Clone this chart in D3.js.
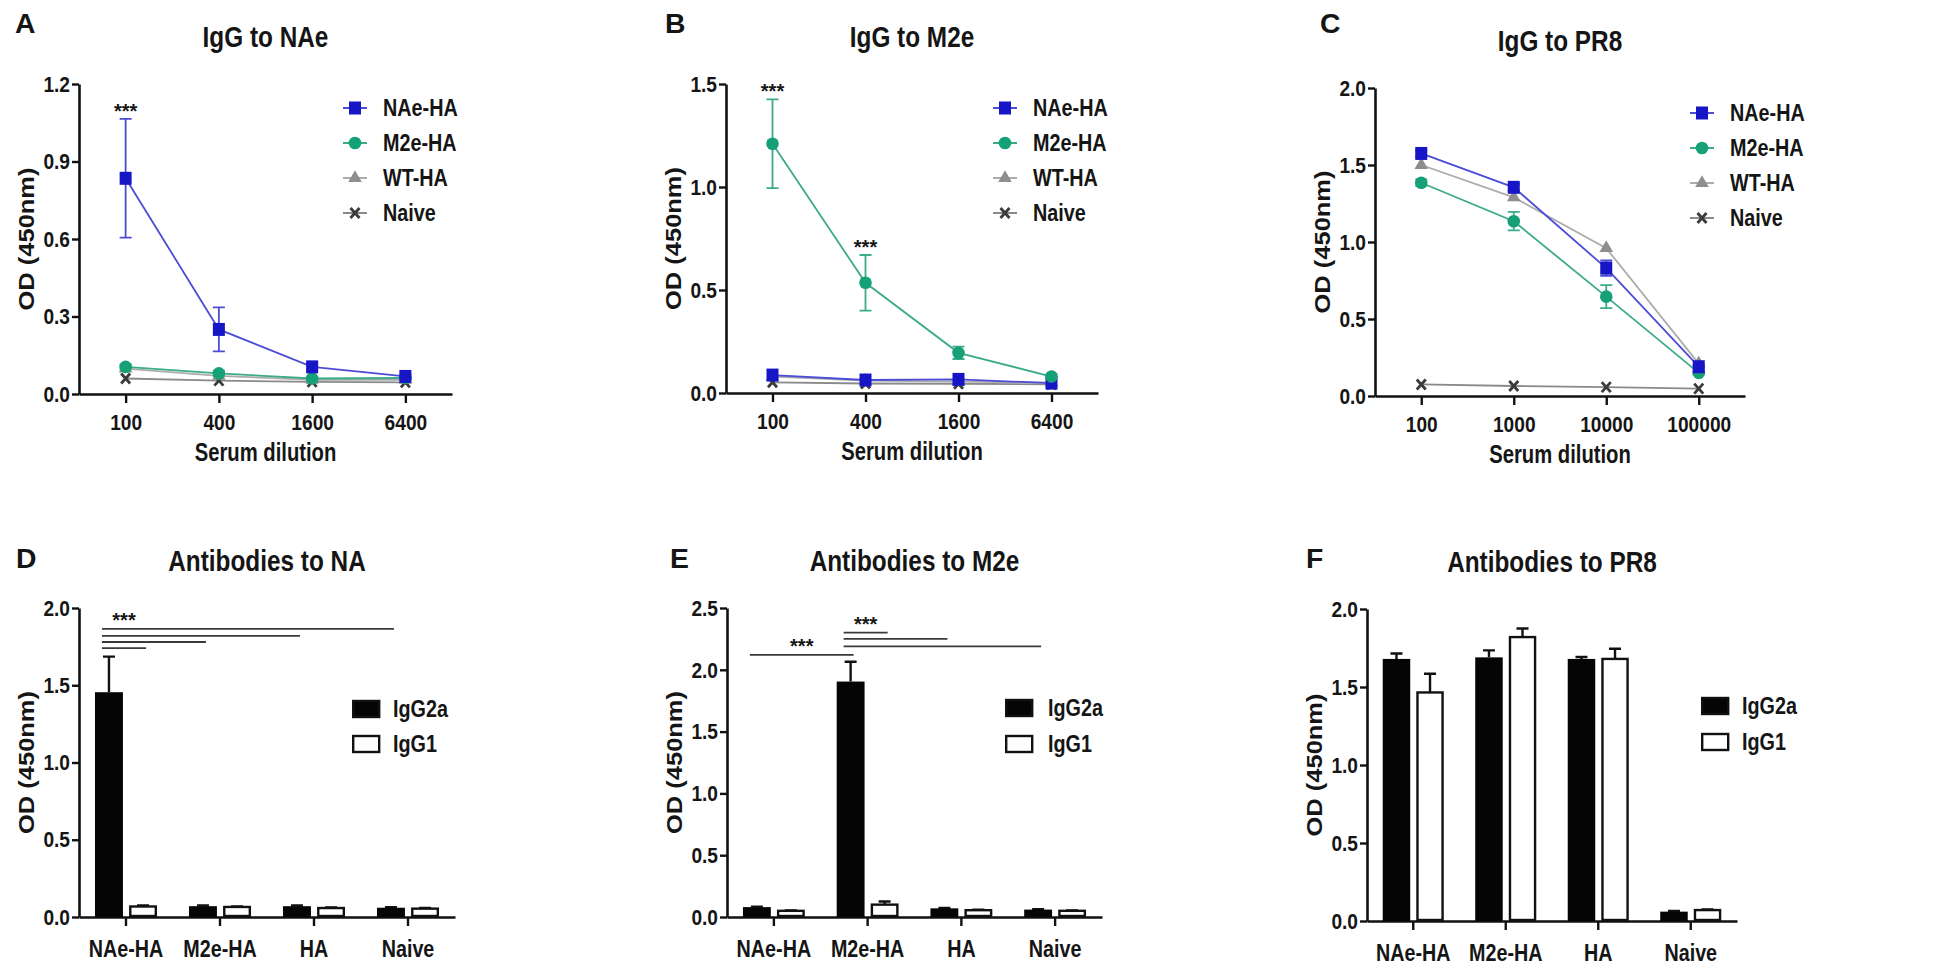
<!DOCTYPE html>
<html><head><meta charset="utf-8">
<script src="https://cdn.jsdelivr.net/npm/d3@7"></script>
<style>
body{margin:0;background:#fff}
svg{display:block}
text{font-family:"Liberation Sans",Arial,sans-serif;font-weight:bold;fill:#151515}
</style>
</head><body>
<svg id="chart" width="1950" height="973"></svg>
<script>
// ================= DATA =================
const seriesNames = ["NAe-HA", "M2e-HA", "WT-HA", "Naive"];
const dilutionsAB = ["100", "400", "1600", "6400"];
const dilutionsC  = ["100", "1000", "10000", "100000"];

// Panel A : IgG to NAe
const naeA      = [0.835, 0.25, 0.105, 0.068];
const naeA_err  = [0.23, 0.085, 0.01, 0.008];
const m2eA      = [0.105, 0.08, 0.06, 0.062];
const m2eA_err  = [0.01, 0.01, 0.005, 0.005];
const wtA       = [0.098, 0.07, 0.055, 0.055];
const naiveA    = [0.06, 0.052, 0.047, 0.045];

// Panel B : IgG to M2e
const naeB      = [0.087, 0.063, 0.066, 0.048];
const m2eB      = [1.21, 0.535, 0.195, 0.08];
const m2eB_err  = [0.215, 0.135, 0.03, 0.01];
const wtB       = [0.08, 0.06, 0.055, 0.05];
const naiveB    = [0.052, 0.046, 0.045, 0.042];

// Panel C : IgG to PR8
const naeC      = [1.575, 1.355, 0.83, 0.19];
const naeC_err  = [0.02, 0.02, 0.05, 0.01];
const m2eC      = [1.385, 1.135, 0.645, 0.15];
const m2eC_err  = [0.02, 0.06, 0.075, 0.01];
const wtC       = [1.50, 1.29, 0.96, 0.21];
const naiveC    = [0.075, 0.065, 0.058, 0.048];

// Bar panels
const groups   = ["NAe-HA", "M2e-HA", "HA", "Naive"];
const isotypes = ["IgG2a", "IgG1"];

const igg2aD     = [1.455, 0.07, 0.07, 0.06];
const igg2aD_err = [0.23, 0.004, 0.004, 0.004];
const igg1D      = [0.068, 0.065, 0.058, 0.054];
const igg1D_err  = [0.006, 0.004, 0.004, 0.004];

const igg2aE     = [0.08, 1.905, 0.07, 0.06];
const igg2aE_err = [0.004, 0.16, 0.004, 0.004];
const igg1E      = [0.05, 0.10, 0.055, 0.05];
const igg1E_err  = [0.004, 0.025, 0.004, 0.004];

const igg2aF     = [1.68, 1.69, 1.68, 0.06];
const igg2aF_err = [0.035, 0.045, 0.012, 0.004];
const igg1F      = [1.465, 1.82, 1.68, 0.07];
const igg1F_err  = [0.12, 0.055, 0.065, 0.004];

// significance bars [from group, from isotype, to group, to isotype, level]
const sigD = [
  ["NAe-HA", "IgG2a", "NAe-HA", "IgG1", 1.74],
  ["NAe-HA", "IgG2a", "M2e-HA", "IgG2a", 1.78],
  ["NAe-HA", "IgG2a", "HA", "IgG2a", 1.82],
  ["NAe-HA", "IgG2a", "Naive", "IgG2a", 1.865]
];
const sigE1 = [
  ["NAe-HA", "IgG2a", "M2e-HA", "IgG2a", 2.12]
];
const sigE2 = [
  ["M2e-HA", "IgG2a", "M2e-HA", "IgG1", 2.30],
  ["M2e-HA", "IgG2a", "HA", "IgG2a", 2.25],
  ["M2e-HA", "IgG2a", "Naive", "IgG2a", 2.19]
];

// tick values
const ticksA = [0, 0.3, 0.6, 0.9, 1.2];
const ticksB = [0, 0.5, 1.0, 1.5];
const ticksC = [0, 0.5, 1.0, 1.5, 2.0];
const ticksD = [0, 0.5, 1.0, 1.5, 2.0];
const ticksE = [0, 0.5, 1.0, 1.5, 2.0, 2.5];
const ticksF = [0, 0.5, 1.0, 1.5, 2.0];

// ================= STYLE =================
const seriesStyle = {
  "NAe-HA": {shape: "square",   fill: "#1616c6", line: "#4c4cd6"},
  "M2e-HA": {shape: "circle",   fill: "#15a077", line: "#3cab88"},
  "WT-HA":  {shape: "triangle", fill: "#8e8e8e", line: "#acacac"},
  "Naive":  {shape: "cross",    fill: "#3a3a3a", line: "#8a8a8a"}
};
const F = {
  tick: {size: 22.5, sx: 0.85},
  title: {size: 29, sx: 0.84},
  xlab: {size: 25, sx: 0.81},
  ylab: {size: 25.5, sx: 0.84},
  leg: {size: 23, sx: 0.86},
  cat: {size: 23.5, sx: 0.84},
  letter: {size: 27, sx: 1.05},
  star: {size: 20, sx: 1}
};

const svg = d3.select("#chart");

function txt(g, x, y, s, f, anchor = "middle", rotate = 0, dy = null) {
  let tr = `translate(${x},${y})`;
  tr += rotate ? ` rotate(${rotate}) scale(1,${f.sx})` : ` scale(${f.sx},1)`;
  const t = g.append("text").attr("transform", tr)
    .attr("text-anchor", anchor).attr("font-size", f.size).text(s);
  if (dy) t.attr("dy", dy);
  return t;
}

function marker(g, shape, cx, cy, color) {
  if (shape === "square") {
    g.append("rect").attr("x", cx - 6).attr("y", cy - 6.5).attr("width", 12).attr("height", 13).attr("fill", color);
  } else if (shape === "circle") {
    g.append("circle").attr("cx", cx).attr("cy", cy).attr("r", 6.3).attr("fill", color);
  } else if (shape === "triangle") {
    g.append("path").attr("d", d3.symbol(d3.symbolTriangle, 80)()).attr("transform", `translate(${cx},${cy})`).attr("fill", color);
  } else {
    g.append("path").attr("d", `M${cx-4.5},${cy-5}L${cx+4.5},${cy+5}M${cx-4.5},${cy+5}L${cx+4.5},${cy-5}`)
      .attr("stroke", color).attr("stroke-width", 2.8).attr("fill", "none");
  }
}

function styleAxes(g, yAxisG, xAxisG) {
  [yAxisG, xAxisG].forEach(a => {
    a.select(".domain").attr("stroke", "#111").attr("stroke-width", 2.6);
    a.selectAll(".tick line").attr("stroke", "#111").attr("stroke-width", 2.4);
    a.selectAll(".tick text").attr("font-family", null).attr("font-size", null);
  });
  yAxisG.selectAll(".tick text").attr("x", null).attr("font-size", F.tick.size)
    .attr("transform", `translate(-9,0) scale(${F.tick.sx},1)`).attr("fill", "#151515");
}

function panelFrame(box, ticks, ymax, title, letter, letterPos) {
  const g = svg.append("g");
  const y = d3.scaleLinear().domain([0, ymax]).range([box.b, box.t]);
  txt(g, (box.l + box.r) / 2, box.t - 37, title, F.title);
  txt(g, letterPos[0], letterPos[1], letter, F.letter, "start");
  txt(g, box.l - 53, (box.t + box.b) / 2, "OD (450nm)", F.ylab, "middle", -90, "0.36em");
  const ya = g.append("g").attr("transform", `translate(${box.l},0)`)
    .call(d3.axisLeft(y).tickValues(ticks).tickFormat(d3.format(".1f")).tickSize(7).tickSizeOuter(0));
  return {g, y, ya};
}

// ================= LINE PANELS =================
function linePanel(cfg) {
  const {box, cats, data, ticks, ymax, title, letter, letterPos, legend, order, stars} = cfg;
  const {g, y, ya} = panelFrame(box, ticks, ymax, title, letter, letterPos);
  const x = d3.scalePoint().domain(cats).range([box.l, box.r]).padding(0.5);
  const xa = g.append("g").attr("transform", `translate(0,${box.b})`)
    .call(d3.axisBottom(x).tickSize(9).tickSizeOuter(0));
  styleAxes(g, ya, xa);
  xa.selectAll(".tick text").attr("y", null).attr("font-size", F.tick.size)
    .attr("transform", `translate(0,20) scale(${F.tick.sx},1)`).attr("fill", "#151515");
  txt(g, (box.l + box.r) / 2, box.b + 67, "Serum dilution", F.xlab);

  const line = d3.line().x((d, i) => x(cats[i])).y(d => y(d));
  order.forEach(name => {
    const s = data[name];
    const st = seriesStyle[name];
    g.append("path").datum(s.v).attr("d", line).attr("fill", "none")
      .attr("stroke", st.line).attr("stroke-width", 1.8);
    if (s.e) {
      s.v.forEach((v, i) => {
        const cx = x(cats[i]), y1 = y(v + s.e[i]), y2 = y(v - s.e[i]);
        g.append("path").attr("d", `M${cx},${y1}V${y2}M${cx-6},${y1}H${cx+6}M${cx-6},${y2}H${cx+6}`)
          .attr("stroke", st.line).attr("stroke-width", 1.8).attr("fill", "none");
      });
    }
    s.v.forEach((v, i) => marker(g, st.shape, x(cats[i]), y(v), st.fill));
  });

  // legend
  seriesNames.forEach((name, i) => {
    const st = seriesStyle[name];
    const ry = legend.y + i * legend.dy;
    g.append("line").attr("x1", legend.x - 12).attr("x2", legend.x + 12).attr("y1", ry).attr("y2", ry)
      .attr("stroke", st.line).attr("stroke-width", 2);
    marker(g, st.shape, legend.x, ry, st.fill);
    txt(g, legend.tx, ry, name, F.leg, "start", 0, "0.36em");
  });

  // significance stars
  (stars || []).forEach(([cat, series]) => {
    const s = data[series];
    const i = cats.indexOf(cat);
    txt(g, x(cat), y(s.v[i] + s.e[i]) - 1, "***", F.star);
  });
}

// ================= BAR PANELS =================
function barPanel(cfg) {
  const {box, vals, errs, ticks, ymax, title, letter, letterPos, legend, sigSets} = cfg;
  const {g, y, ya} = panelFrame(box, ticks, ymax, title, letter, letterPos);
  const x0 = d3.scaleBand().domain(groups).range([box.l, box.r]).paddingInner(0.34).paddingOuter(0.17);
  const x1 = d3.scaleBand().domain(isotypes).range([0, x0.bandwidth()]).paddingInner(0.18);
  const xa = g.append("g").attr("transform", `translate(0,${box.b})`)
    .call(d3.axisBottom(x0).tickSize(9).tickSizeOuter(0));
  styleAxes(g, ya, xa);
  xa.selectAll(".tick text").attr("y", null).attr("font-size", F.cat.size)
    .attr("transform", `translate(0,23) scale(${F.cat.sx},1)`).attr("fill", "#151515");

  isotypes.forEach((iso, k) => {
    groups.forEach((gr, i) => {
      const v = vals[k][i], e = errs[k][i];
      const bx = x0(gr) + x1(iso), bw = x1.bandwidth(), cx = bx + bw / 2;
      g.append("path").attr("d", `M${cx},${y(v)}V${y(v + e)}M${cx-6},${y(v + e)}H${cx+6}`)
        .attr("stroke", "#111").attr("stroke-width", 2.4).attr("fill", "none");
      if (k === 0) {
        g.append("rect").attr("x", bx).attr("y", y(v)).attr("width", bw).attr("height", y(0) - y(v)).attr("fill", "#050505");
      } else {
        g.append("rect").attr("x", bx + 1.2).attr("y", y(v)).attr("width", bw - 2.4).attr("height", y(0) - y(v) - 1)
          .attr("fill", "#fff").attr("stroke", "#111").attr("stroke-width", 2.4);
      }
    });
  });

  // legend
  isotypes.forEach((iso, k) => {
    const ry = legend.y + k * legend.dy;
    g.append("rect").attr("x", legend.x + 1.2).attr("y", ry - 8).attr("width", 26).attr("height", 16)
      .attr("fill", k === 0 ? "#050505" : "#fff").attr("stroke", "#111").attr("stroke-width", 2.4);
    txt(g, legend.tx, ry, iso, F.leg, "start", 0, "0.36em");
  });

  // significance lines
  const bc = (gr, iso) => x0(gr) + x1(iso) + x1.bandwidth() / 2;
  (sigSets || []).forEach(set => {
    let shortest = null, top = -1;
    set.forEach(([g1, i1, g2, i2, lvl]) => {
      const xa1 = bc(g1, i1) - 7, xa2 = bc(g2, i2) + 3;
      g.append("line").attr("x1", xa1).attr("x2", xa2).attr("y1", y(lvl)).attr("y2", y(lvl))
        .attr("stroke", "#3a3a3a").attr("stroke-width", 1.8);
      if (!shortest || (xa2 - xa1) < shortest[1] - shortest[0]) shortest = [xa1, xa2];
      top = Math.max(top, lvl);
    });
    txt(g, (shortest[0] + shortest[1]) / 2, y(top) - 2, "***", F.star);
  });
}

// ================= DRAW =================
linePanel({
  box: {l: 79, r: 452, t: 84, b: 394}, cats: dilutionsAB, ticks: ticksA, ymax: 1.2,
  title: "IgG to NAe", letter: "A", letterPos: [15, 33],
  data: {"NAe-HA": {v: naeA, e: naeA_err}, "M2e-HA": {v: m2eA, e: m2eA_err}, "WT-HA": {v: wtA}, "Naive": {v: naiveA}},
  order: ["Naive", "WT-HA", "M2e-HA", "NAe-HA"],
  legend: {x: 355, tx: 383, y: 108, dy: 35},
  stars: [["100", "NAe-HA"]]
});
linePanel({
  box: {l: 726, r: 1098, t: 84, b: 393}, cats: dilutionsAB, ticks: ticksB, ymax: 1.5,
  title: "IgG to M2e", letter: "B", letterPos: [665, 33],
  data: {"NAe-HA": {v: naeB}, "M2e-HA": {v: m2eB, e: m2eB_err}, "WT-HA": {v: wtB}, "Naive": {v: naiveB}},
  order: ["Naive", "WT-HA", "NAe-HA", "M2e-HA"],
  legend: {x: 1005, tx: 1033, y: 108, dy: 35},
  stars: [["100", "M2e-HA"], ["400", "M2e-HA"]]
});
linePanel({
  box: {l: 1375, r: 1745, t: 88, b: 396}, cats: dilutionsC, ticks: ticksC, ymax: 2.0,
  title: "IgG to PR8", letter: "C", letterPos: [1320, 33],
  data: {"NAe-HA": {v: naeC, e: naeC_err}, "M2e-HA": {v: m2eC, e: m2eC_err}, "WT-HA": {v: wtC}, "Naive": {v: naiveC}},
  order: ["Naive", "WT-HA", "M2e-HA", "NAe-HA"],
  legend: {x: 1702, tx: 1730, y: 113, dy: 35}
});
barPanel({
  box: {l: 79, r: 455, t: 608, b: 917}, ticks: ticksD, ymax: 2.0,
  title: "Antibodies to NA", letter: "D", letterPos: [16, 568],
  vals: [igg2aD, igg1D], errs: [igg2aD_err, igg1D_err],
  legend: {x: 352, tx: 393, y: 709, dy: 35},
  sigSets: [sigD]
});
barPanel({
  box: {l: 727, r: 1102, t: 608, b: 917}, ticks: ticksE, ymax: 2.5,
  title: "Antibodies to M2e", letter: "E", letterPos: [670, 568],
  vals: [igg2aE, igg1E], errs: [igg2aE_err, igg1E_err],
  legend: {x: 1005, tx: 1048, y: 708, dy: 36},
  sigSets: [sigE1, sigE2]
});
barPanel({
  box: {l: 1367, r: 1737, t: 609, b: 921}, ticks: ticksF, ymax: 2.0,
  title: "Antibodies to PR8", letter: "F", letterPos: [1306, 568],
  vals: [igg2aF, igg1F], errs: [igg2aF_err, igg1F_err],
  legend: {x: 1701, tx: 1742, y: 706, dy: 36}
});
</script>
</body></html>
